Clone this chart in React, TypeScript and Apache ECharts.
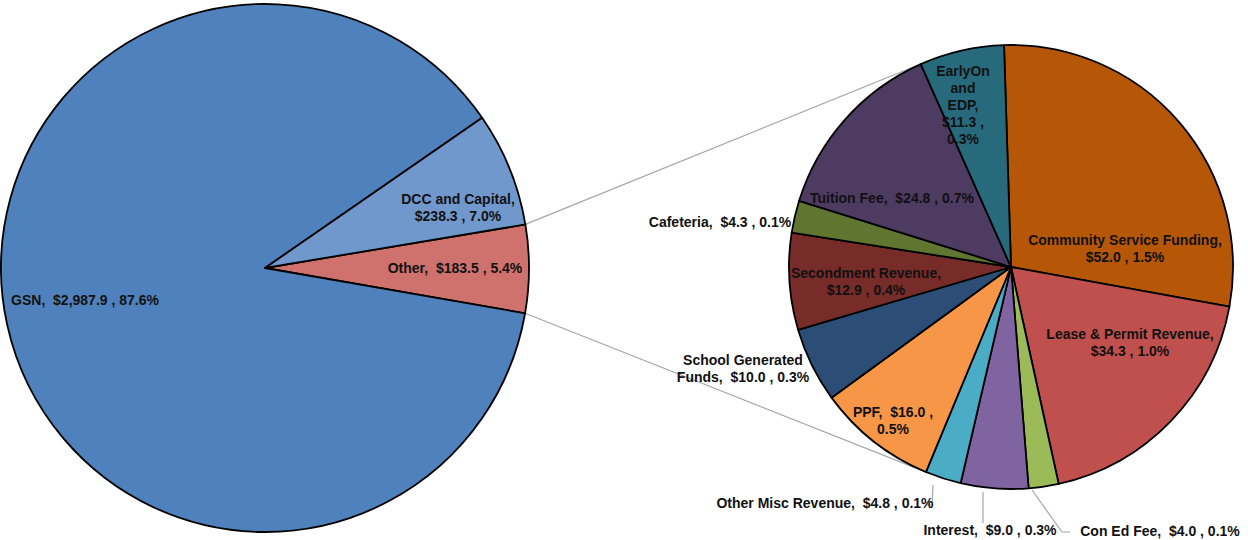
import React, { useEffect, useRef } from "react";
import * as echarts from "echarts";

// ---------- data ----------
const mainCategories = ["Other", "GSN", "DCC and Capital"];
const mainValues = [183.5, 2987.9, 238.3];

const otherCategories = [
  "Community Service Funding",
  "Lease & Permit Revenue",
  "Con Ed Fee",
  "Interest",
  "Other Misc Revenue",
  "PPF",
  "School Generated Funds",
  "Secondment Revenue",
  "Cafeteria",
  "Tuition Fee",
  "EarlyOn and EDP",
];
const otherValues = [52.0, 34.3, 4.0, 9.0, 4.8, 16.0, 10.0, 12.9, 4.3, 24.8, 11.3];

// ---------- styles / layout ----------
const mainColors = ["#CF716C", "#4F81BD", "#7198CD"];
const otherColors = [
  "#B65708", "#C0504D", "#9BBB59", "#8064A2", "#4BACC6", "#F79646",
  "#2C4D75", "#772C2A", "#5F7530", "#4D3B62", "#276A7C",
];

const LEFT_C = [265, 268];
const LEFT_R = 264;
const LEFT_START = 9.5;
const RIGHT_C = [1011, 267];
const RIGHT_R = 222;
const RIGHT_START = 91.8;

// label templates: {n} name, {v} value, {p} percent
const mainLabelTpl = ["{n},  {v} , {p}", "{n},  {v} , {p}", "{n},\n{v} , {p}"];
const mainLabelPos = [[455, 268], [85, 300], [458, 207]];

const otherNameOverride: Record<number, string> = {
  6: "School Generated\nFunds",
  10: "EarlyOn\nand\nEDP",
};
const otherLabelTpl = [
  "{n},\n{v} , {p}",
  "{n},\n{v} , {p}",
  "{n},  {v} , {p}",
  "{n},  {v} , {p}",
  "{n},  {v} , {p}",
  "{n},  {v} ,\n{p}",
  "{n},  {v} , {p}",
  "{n},\n{v} , {p}",
  "{n},  {v} , {p}",
  "{n},  {v} , {p}",
  "{n},\n{v} ,\n{p}",
];
const otherLabelPos = [
  [1125, 248], [1130, 342], [1160, 531], [990, 530], [825, 503], [893, 420],
  [743, 368], [866, 281], [720, 222], [892, 198], [963, 105],
];
const otherLeaderLines: Record<number, number[][]> = {
  2: [[1032, 490], [1062, 532], [1070, 532]],
  3: [[983, 492], [983, 508], [983, 523]],
  4: [[926, 505], [932, 505], [933, 485]],
};

const grandTotal = mainValues.reduce((a, b) => a + b, 0);

function fmtLabel(tpl: string, name: string, value: number) {
  const v = "$" + value.toLocaleString("en-US", { minimumFractionDigits: 1, maximumFractionDigits: 1 });
  const p = ((value / grandTotal) * 100).toFixed(1) + "%";
  return tpl.replace("{n}", name).replace("{v}", v).replace("{p}", p);
}

const labelFont = {
  fontSize: 14,
  fontWeight: "bold" as const,
  fontFamily: "'Liberation Sans', Arial, sans-serif",
  color: "#111111",
  lineHeight: 17,
  align: "center" as const,
};

function tangentPoint(px: number, py: number, upper: boolean) {
  const dx = px - RIGHT_C[0];
  const dy = py - RIGHT_C[1];
  const d = Math.sqrt(dx * dx + dy * dy);
  const base = Math.atan2(dy, dx);
  const off = Math.acos(RIGHT_R / d);
  const a1 = base + off;
  const a2 = base - off;
  const p1 = [RIGHT_C[0] + RIGHT_R * Math.cos(a1), RIGHT_C[1] + RIGHT_R * Math.sin(a1)];
  const p2 = [RIGHT_C[0] + RIGHT_R * Math.cos(a2), RIGHT_C[1] + RIGHT_R * Math.sin(a2)];
  if (upper) return p1[1] < p2[1] ? p1 : p2;
  return p1[1] > p2[1] ? p1 : p2;
}

export default function App() {
  const ref = useRef<HTMLDivElement>(null);

  useEffect(() => {
    if (!ref.current) return;
    const chart = echarts.init(ref.current, undefined, { renderer: "svg" });

    // connector lines from the "Other" slice edges of the main pie
    const otherSweep = (360 * mainValues[0]) / grandTotal;
    const aTop = (LEFT_START * Math.PI) / 180;
    const aBot = ((LEFT_START - otherSweep) * Math.PI) / 180;
    const pTop = [LEFT_C[0] + LEFT_R * Math.cos(aTop), LEFT_C[1] - LEFT_R * Math.sin(aTop)];
    const pBot = [LEFT_C[0] + LEFT_R * Math.cos(aBot), LEFT_C[1] - LEFT_R * Math.sin(aBot)];
    const tTop = tangentPoint(pTop[0], pTop[1], true);
    const tBot = tangentPoint(pBot[0], pBot[1], false);

    chart.setOption({
      animation: false,
      backgroundColor: "#ffffff",
      graphic: [
        {
          type: "line",
          z: 0,
          shape: { x1: pTop[0], y1: pTop[1], x2: tTop[0], y2: tTop[1] },
          style: { stroke: "#A6A6A6", lineWidth: 1.2 },
        },
        {
          type: "line",
          z: 0,
          shape: { x1: pBot[0], y1: pBot[1], x2: tBot[0], y2: tBot[1] },
          style: { stroke: "#A6A6A6", lineWidth: 1.2 },
        },
      ],
      series: [
        {
          type: "pie",
          center: LEFT_C,
          radius: [0, LEFT_R],
          startAngle: LEFT_START,
          clockwise: true,
          avoidLabelOverlap: false,
          minShowLabelAngle: 0,
          emphasis: { disabled: true },
          itemStyle: { borderColor: "#000000", borderWidth: 1.8 },
          data: mainCategories.map((n, i) => ({
            name: n,
            value: mainValues[i],
            itemStyle: { color: mainColors[i] },
          })),
          label: {
            show: true,
            position: "outside",
            ...labelFont,
            formatter: (p: any) => fmtLabel(mainLabelTpl[p.dataIndex], p.name, p.value),
          },
          labelLine: { show: false },
          labelLayout: (p: any) => ({
            x: mainLabelPos[p.dataIndex][0],
            y: mainLabelPos[p.dataIndex][1],
            align: "center",
            verticalAlign: "middle",
          }),
        },
        {
          type: "pie",
          center: RIGHT_C,
          radius: [0, RIGHT_R],
          startAngle: RIGHT_START,
          clockwise: true,
          avoidLabelOverlap: false,
          minShowLabelAngle: 0,
          emphasis: { disabled: true },
          itemStyle: { borderColor: "#000000", borderWidth: 1.8 },
          data: otherCategories.map((n, i) => ({
            name: n,
            value: otherValues[i],
            itemStyle: { color: otherColors[i] },
            labelLine: { show: !!otherLeaderLines[i] },
          })),
          label: {
            show: true,
            position: "outside",
            ...labelFont,
            formatter: (p: any) =>
              fmtLabel(otherLabelTpl[p.dataIndex], otherNameOverride[p.dataIndex] ?? p.name, p.value),
          },
          labelLine: {
            show: true,
            lineStyle: { color: "#A6A6A6", width: 1.2 },
          },
          labelLayout: (p: any) => {
            const i = p.dataIndex;
            const res: any = {
              x: otherLabelPos[i][0],
              y: otherLabelPos[i][1],
              align: "center",
              verticalAlign: "middle",
            };
            if (otherLeaderLines[i]) res.labelLinePoints = otherLeaderLines[i];
            return res;
          },
        },
      ],
    });

    return () => chart.dispose();
  }, []);

  return (
    <div
      ref={ref}
      style={{ position: "fixed", left: 0, top: 0, width: 1248, height: 540, background: "#fff" }}
    />
  );
}
